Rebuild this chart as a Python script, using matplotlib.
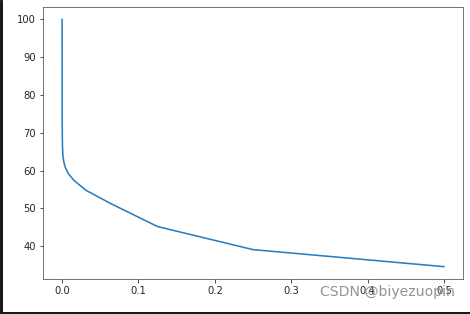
import matplotlib

matplotlib.use("Agg")
import matplotlib.pyplot as plt
from matplotlib.patches import Rectangle

# step size vs. value
x_vals = [0.5, 0.25, 0.125, 0.0625, 0.03125, 0.015625, 0.0078125,
          0.00390625, 0.001953, 0.000977, 0.000488, 0.000244,
          0.000122, 0.000061, 0.00003, 0.0]
y_vals = [34.6, 39.1, 45.2, 51.4, 54.8, 57.4, 59.3,
          61.0, 62.6, 64.2, 66.5, 70.0,
          75.0, 82.0, 90.0, 100.0]

W, H, DPI = 470, 314, 72
fig = plt.figure(figsize=(W / DPI, H / DPI), dpi=DPI)
fig.patch.set_facecolor("white")
ax = fig.add_axes([43 / W, (H - 279) / H, (463 - 43) / W, (279 - 7) / H])

ax.plot(x_vals, y_vals, color="#2a7fc0", lw=1.6)
ax.set_xticks([0.0, 0.1, 0.2, 0.3, 0.4, 0.5])
ax.set_yticks([40, 50, 60, 70, 80, 90, 100])
ax.tick_params(labelsize=10, colors="#262626", labelcolor="#262626")
for s in ax.spines.values():
    s.set_color("#555555")

# screenshot frame + watermark
fig.patches.append(Rectangle((0, 0), 2 / W, 1, transform=fig.transFigure,
                             color="#1a1a1a", zorder=5))
fig.patches.append(Rectangle((0, 0), 1, 2 / H, transform=fig.transFigure,
                             color="#1a1a1a", zorder=5))
fig.text(455 / W, 1 - 292 / H, "CSDN @biyezuopin", ha="right", va="center",
         fontsize=14, color="#888888", alpha=0.9)

fig.savefig("out.png", dpi=DPI)
